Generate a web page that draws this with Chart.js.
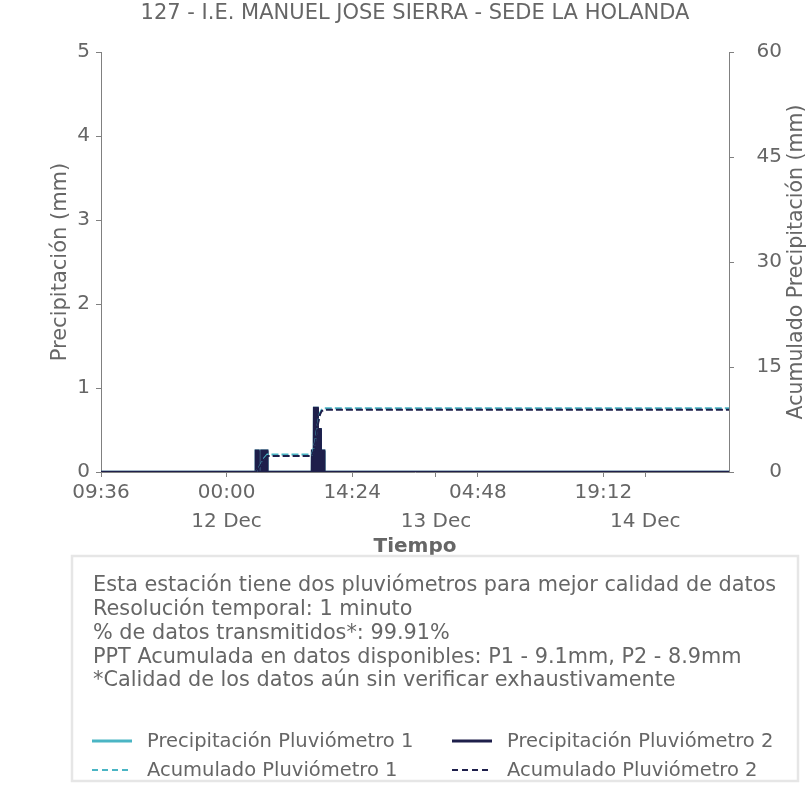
<!DOCTYPE html>
<html>
<head>
<meta charset="utf-8">
<script src="https://cdn.jsdelivr.net/npm/chart.js@4.4.1/dist/chart.umd.min.js"></script>
<style>
  html, body { margin: 0; padding: 0; background: #fff; }
  #wrap { width: 806px; height: 806px; }
</style>
</head>
<body>
<div id="wrap"><canvas id="chart" width="806" height="806"></canvas></div>
<script>
// hours since 11 Dec 09:36
const P1_TIME = [0, 17.74, 17.76, 18.05, 18.07, 18.38, 18.4, 19.05, 19.07, 24.19, 24.21, 24.42, 24.44, 24.83, 24.85, 25.17, 25.19, 25.58, 25.6, 72];
const P1_VALUE = [0, 0, 0.254, 0.254, 0, 0, 0.254, 0.254, 0, 0, 0.254, 0.254, 0.762, 0.762, 0.508, 0.508, 0.254, 0.254, 0, 0];
const P2_TIME = [0, 17.74, 17.76, 18.05, 18.07, 18.38, 18.4, 19.05, 19.07, 24.19, 24.21, 24.42, 24.44, 24.83, 24.85, 25.17, 25.19, 25.58, 25.6, 72];
const P2_VALUE = [0, 0, 0.254, 0.254, 0, 0, 0.254, 0.254, 0, 0, 0.254, 0.254, 0.762, 0.762, 0.508, 0.508, 0.254, 0.254, 0, 0];

const ACUM1_TIME = [0, 17.74, 18.0, 18.3, 18.6, 19.07, 24.19, 24.45, 24.7, 24.9, 25.1, 25.3, 25.6, 72];
const ACUM1_VALUE = [0, 0, 0.5, 1.0, 1.8, 2.5, 2.5, 3.6, 5.6, 7.2, 8.4, 8.9, 9.1, 9.1];
const ACUM2_TIME = [0, 17.74, 18.0, 18.3, 18.6, 19.07, 24.19, 24.45, 24.7, 24.9, 25.1, 25.3, 25.6, 72];
const ACUM2_VALUE = [0, 0, 0.5, 0.9, 1.6, 2.3, 2.3, 3.3, 5.3, 7.0, 8.2, 8.7, 8.9, 8.9];

const X_TICKS = [0, 14.4, 28.8, 38.4, 43.2, 57.6, 62.4];
const X_TICK_LABELS = [["09:36", ""], ["00:00", "12 Dec"], ["14:24", ""], ["", "13 Dec"], ["04:48", ""], ["19:12", ""], ["", "14 Dec"]];

const TITLE = "127 - I.E. MANUEL JOSE SIERRA - SEDE LA HOLANDA";
const INFO_LINES = [
  "Esta estación tiene dos pluviómetros para mejor calidad de datos",
  "Resolución temporal: 1 minuto",
  "% de datos transmitidos*: 99.91%",
  "PPT Acumulada en datos disponibles: P1 - 9.1mm, P2 - 8.9mm",
  "*Calidad de los datos aún sin verificar exhaustivamente"
];

const TEAL = "#4ab5c4";
const NAVY = "#1e1f4b";
const GRAY = "#666666";
const FONT = "'DejaVu Sans', sans-serif";

const toPoints = (t, v) => t.map((x, i) => ({ x, y: v[i] }));

const extras = {
  id: "extras",
  afterDraw(chart) {
    const ctx = chart.ctx;
    const area = chart.chartArea;
    ctx.save();
    ctx.fillStyle = GRAY;
    ctx.font = "21px " + FONT;
    ctx.textAlign = "center";
    ctx.textBaseline = "middle";
    ctx.fillText(TITLE, 415, 14);

    // right axis title, reads bottom to top
    ctx.save();
    ctx.font = "20.5px " + FONT;
    ctx.translate(797, (area.top + area.bottom) / 2);
    ctx.rotate(-Math.PI / 2);
    ctx.fillText("Acumulado Precipitación (mm)", 0, 0);
    ctx.restore();

    // info / legend box
    ctx.fillStyle = "#ffffff";
    ctx.fillRect(72, 556, 726, 225);
    ctx.strokeStyle = "#e6e6e6";
    ctx.lineWidth = 2.5;
    ctx.strokeRect(72, 556, 726, 225);

    ctx.fillStyle = GRAY;
    ctx.textAlign = "left";
    ctx.font = "20.8px " + FONT;
    INFO_LINES.forEach((line, i) => ctx.fillText(line, 93, 586 + i * 23.75));

    ctx.font = "19.5px " + FONT;
    const ds = chart.data.datasets;
    const items = [
      { d: ds[0], x: 92, y: 741 }, { d: ds[1], x: 452, y: 741 },
      { d: ds[2], x: 92, y: 770 }, { d: ds[3], x: 452, y: 770 }
    ];
    items.forEach(({ d, x, y }) => {
      ctx.beginPath();
      ctx.strokeStyle = d.borderColor;
      ctx.lineWidth = d.borderDash ? 2 : 3;
      ctx.setLineDash(d.borderDash ? [6, 4] : []);
      ctx.moveTo(x, y);
      ctx.lineTo(x + 40, y);
      ctx.stroke();
      ctx.setLineDash([]);
      ctx.fillText(d.label, x + 55, y + 1);
    });
    ctx.restore();
  }
};

new Chart(document.getElementById("chart"), {
  type: "line",
  data: {
    datasets: [
      { label: "Precipitación Pluviómetro 1", data: toPoints(P1_TIME, P1_VALUE), borderColor: TEAL, backgroundColor: TEAL, fill: "origin", borderWidth: 2.5, yAxisID: "y", order: 4 },
      { label: "Precipitación Pluviómetro 2", data: toPoints(P2_TIME, P2_VALUE), borderColor: NAVY, backgroundColor: NAVY, fill: "origin", borderWidth: 2.5, yAxisID: "y", order: 3 },
      { label: "Acumulado Pluviómetro 1", data: toPoints(ACUM1_TIME, ACUM1_VALUE), borderColor: TEAL, borderWidth: 2, borderDash: [7, 3], yAxisID: "y2", order: 2 },
      { label: "Acumulado Pluviómetro 2", data: toPoints(ACUM2_TIME, ACUM2_VALUE), borderColor: NAVY, borderWidth: 2, borderDash: [7, 3], yAxisID: "y2", order: 1 }
    ]
  },
  options: {
    responsive: false,
    animation: false,
    layout: { padding: { top: 52, left: 0, right: 24, bottom: 0 } },
    elements: { point: { radius: 0 }, line: { tension: 0 } },
    plugins: { legend: { display: false }, tooltip: { enabled: false } },
    scales: {
      x: {
        type: "linear",
        min: 0,
        max: 72,
        afterFit: (s) => { s.height = 334; },
        afterBuildTicks: (s) => { s.ticks = X_TICKS.map((v) => ({ value: v })); },
        ticks: {
          autoSkip: false,
          maxRotation: 0,
          padding: 1,
          color: GRAY,
          font: { family: FONT, size: 20, lineHeight: 1.45 },
          callback: (v, i) => X_TICK_LABELS[i]
        },
        grid: { drawOnChartArea: false, tickLength: 5, color: "#808080", tickColor: "#808080" },
        border: { color: "#808080", width: 1 },
        title: { display: true, text: "Tiempo", color: GRAY, font: { family: FONT, size: 20, weight: "bold", lineHeight: 1.2 }, padding: { top: 0, bottom: 247 } }
      },
      y: {
        position: "left",
        min: 0,
        max: 5,
        afterFit: (s) => { s.width = 101; },
        ticks: { stepSize: 1, padding: 6, color: GRAY, font: { family: FONT, size: 20 } },
        grid: { drawOnChartArea: false, tickLength: 5, tickColor: "#808080" },
        border: { color: "#808080", width: 1 },
        title: { display: true, text: "Precipitación (mm)", color: GRAY, font: { family: FONT, size: 21, lineHeight: 1.2 }, padding: { top: 48, bottom: 0 } }
      },
      y2: {
        position: "right",
        min: 0,
        max: 60,
        afterFit: (s) => { s.width = 53; },
        ticks: { stepSize: 15, padding: 4, crossAlign: "far", color: GRAY, font: { family: FONT, size: 20 } },
        grid: { drawOnChartArea: false, tickLength: 5, tickColor: "#808080" },
        border: { color: "#808080", width: 1 }
      }
    }
  },
  plugins: [extras]
});
</script>
</body>
</html>
